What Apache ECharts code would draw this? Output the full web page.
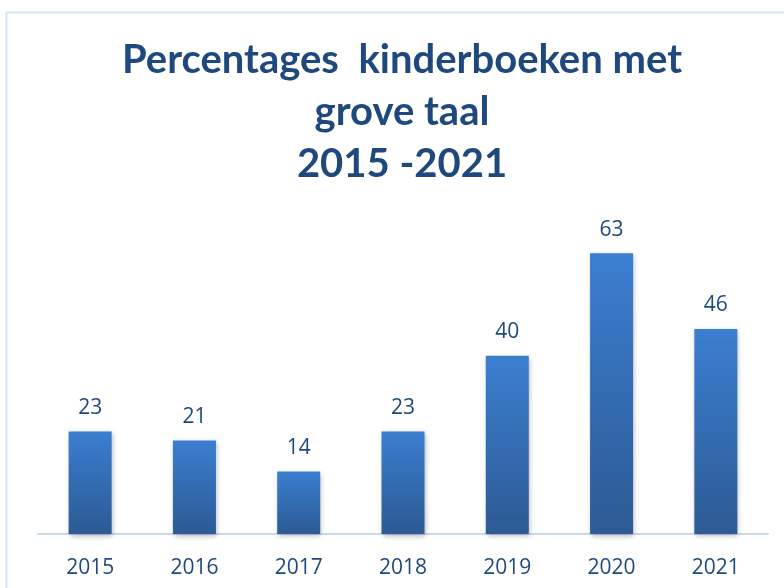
<!DOCTYPE html>
<html>
<head>
<meta charset="utf-8">
<script src="https://cdn.jsdelivr.net/npm/echarts@6/dist/echarts.min.js"></script>
<style>
  html, body { margin: 0; padding: 0; background: #fff; }
  #chart { width: 784px; height: 588px; }
</style>
</head>
<body>
<div id="chart"></div>
<script>
var years = ['2015', '2016', '2017', '2018', '2019', '2020', '2021'];
var percentages = [23, 21, 14, 23, 40, 63, 46];
var titleLines = ['Percentages  kinderboeken met', 'grove taal', '2015 -2021'];

var textColor = '#1F497D';
var myChart = echarts.init(document.getElementById('chart'), null, { renderer: 'canvas' });

var option = {
    backgroundColor: '#fff',
    animation: false,
    title: {
        text: titleLines.join('\n'),
        left: 397,
        textAlign: 'center',
        top: 29,
        textStyle: {
            fontFamily: 'Lato',
            fontWeight: 'bold',
            fontSize: 40,
            lineHeight: 52,
            color: textColor
        }
    },
    graphic: [{
        type: 'rect',
        shape: { x: 6.5, y: 12.5, width: 800, height: 600 },
        style: { fill: 'none', stroke: '#D6E4F4', lineWidth: 2 },
        silent: true
    }],
    grid: { left: 38, right: 16, top: 222, bottom: 54 },
    xAxis: {
        type: 'category',
        data: years,
        axisLine: { lineStyle: { color: '#C9DAF0', width: 2 } },
        axisTick: { show: false },
        axisLabel: {
            fontFamily: 'Open Sans',
            fontSize: 21,
            color: textColor,
            margin: 24
        }
    },
    yAxis: {
        type: 'value',
        min: 0,
        max: 70,
        show: false,
        splitLine: { show: false }
    },
    series: [{
        type: 'bar',
        data: percentages,
        barWidth: 43,
        itemStyle: {
            color: new echarts.graphic.LinearGradient(0, 0, 0, 1, [
                { offset: 0, color: '#3B7ED0' },
                { offset: 1, color: '#2C5A94' }
            ]),
            shadowColor: 'rgba(0,0,0,0.3)',
            shadowBlur: 5,
            shadowOffsetX: 1,
            shadowOffsetY: 2
        },
        label: {
            show: true,
            position: 'top',
            distance: 13,
            fontFamily: 'Open Sans',
            fontSize: 21,
            color: textColor
        }
    }]
};

myChart.setOption(option);
window.addEventListener('resize', myChart.resize);
</script>
</body>
</html>
